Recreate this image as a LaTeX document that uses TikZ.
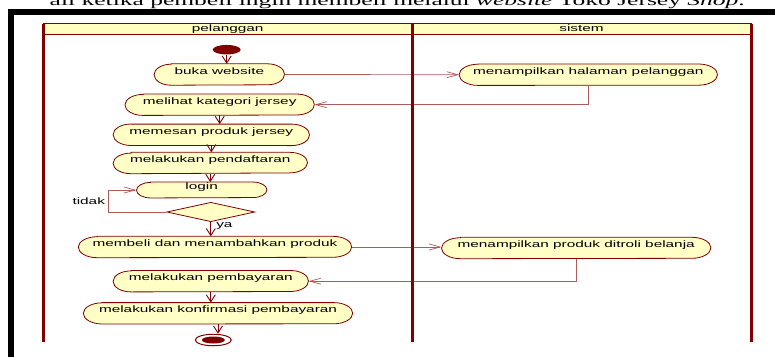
\documentclass[tikz,border=0pt]{standalone}
\usepackage{fontspec}
\usepackage{xcolor}
\usepackage{tikz}
\usetikzlibrary{arrows.meta,shapes.geometric,backgrounds}

\newfontfamily\umlfont[FakeStretch=1.65]{Liberation Sans}
\newfontfamily\pagefont[FakeStretch=1.7]{Liberation Serif}

\definecolor{umlred}{HTML}{800000}
\definecolor{umlfill}{HTML}{FFFFC6}
\definecolor{lanefill}{HTML}{FFFFBF}
\definecolor{crossred}{HTML}{B05A5A}

\tikzset{
  actnode/.style={rectangle, inner sep=0pt, minimum height=21pt,
    text height=5pt, text depth=6pt, font=\umlfont\fontsize{9.3pt}{11pt}\selectfont},
  actshape/.style={draw=umlred, fill=umlfill, line width=0.8pt},
  startnode/.style={ellipse, fill=umlred, minimum width=28pt, minimum height=9.5pt, inner sep=0pt},
  endring/.style={ellipse, draw=umlred, fill=white, line width=1pt,
    minimum width=36pt, minimum height=11.5pt, inner sep=0pt},
  enddot/.style={ellipse, fill=umlred, minimum width=23pt, minimum height=7pt, inner sep=0pt},
  decision/.style={diamond, draw=umlred, fill=umlfill, line width=0.8pt,
    minimum width=88pt, minimum height=19.4pt, inner sep=0pt},
  flow/.style={draw=umlred, line width=0.9pt, -{Straight Barb[length=7pt,width=9pt]}},
  crossflow/.style={draw=crossred, line width=0.7pt, -{Straight Barb[length=11pt,width=6pt]}},
  guardtext/.style={font=\umlfont\fontsize{9.3pt}{11pt}\selectfont, inner sep=0pt},
  lanehead/.style={draw=umlred, fill=lanefill, line width=1.2pt},
  lanetitle/.style={font=\umlfont\fontsize{9.3pt}{11pt}\selectfont, inner sep=0pt,
    text height=6.7pt, text depth=2pt},
  laneline/.style={draw=umlred, line width=3pt}
}

\begin{document}
\begin{tikzpicture}[x=1pt, y=-1pt]
  \useasboundingbox (0,0) rectangle (775,356);
  \clip (0,0) rectangle (775,356);

  % page line and frame
  \node[anchor=base east, inner sep=0pt, font=\pagefont\fontsize{15pt}{18pt}\selectfont] (pagetext) at (745,5.5)
    {ali ketika pembeli ingin membeli melalui \textit{website} Toko Jersey \textit{Shop}.};
  \fill (8.3,8.7) rectangle (780,14.5);
  \fill (8.3,8.7) rectangle (14,360);

  % pelanggan
  \node[startnode] (mulai) at (226.7,49.7) {};
  \node[actnode, minimum width=130pt] (buka) at (219.3,74.5) {buka website};
  \node[actnode, minimum width=189pt] (lihat) at (219.7,104.7) {melihat kategori jersey};
  \node[actnode, minimum width=196pt] (pesan) at (211.3,134.8) {memesan produk jersey};
  \node[actnode, minimum width=194pt] (daftar) at (210.3,163) {melakukan pendaftaran};
  \node[actnode, minimum width=130pt, minimum height=15.5pt] (login) at (201.7,190) {login};
  \node[decision] (cek) at (210.8,212) {};
  \node[actnode, minimum width=273pt] (beli) at (215,247) {membeli dan menambahkan produk};
  \node[actnode, minimum width=195pt] (bayar) at (210.8,281.2) {melakukan pembayaran};
  \node[actnode, minimum width=269pt] (konfirmasi) at (218,313.3) {melakukan konfirmasi pembayaran};
  \node[endring] (akhir) at (213.3,340) {};
  \node[enddot] (akhirdot) at (akhir) {};

  % sistem
  \node[actnode, minimum width=258pt] (halaman) at (588.3,74.7) {menampilkan halaman pelanggan};
  \node[actnode, minimum width=269pt] (troli) at (576.2,248) {menampilkan produk ditroli belanja};

  \begin{pgfonlayer}{background}
    \foreach \n/\r/\rx in {buka/10.5/17, lihat/10.5/18, pesan/10.75/18, daftar/10.3/18,
        login/7.75/14, beli/10.5/19, bayar/10.5/18, konfirmasi/10.6/19,
        halaman/10.6/19, troli/10.5/19}
      \draw[actshape] ([xshift=\rx pt]\n.north west) -- ([xshift=-\rx pt]\n.north east)
        arc[start angle=90, end angle=-90, x radius=\rx pt, y radius=\r pt]
        -- ([xshift=\rx pt]\n.south west)
        arc[start angle=270, end angle=90, x radius=\rx pt, y radius=\r pt] -- cycle;
  \end{pgfonlayer}

  % connectors
  \draw[flow] (mulai.south) -- (mulai.south |- buka.north);
  \draw[crossflow] (buka.east) -- (halaman.west);
  \draw[crossflow] (halaman.south) |- (lihat.east);
  \draw[flow] (lihat.south) -- (lihat.south |- pesan.north);
  \draw[flow] (pesan.south) -- (pesan.south |- daftar.north);
  \draw[flow] (daftar.south) -- (daftar.south |- login.north);
  \coordinate (ulang) at (108.3,212);
  \draw[crossflow] (cek.west) -- (ulang) |- node[pos=0.25, left=3pt, guardtext] {tidak} (login.west);
  \draw[flow] (cek.south) -- node[pos=0.25, right=5pt, guardtext] {ya} (cek.south |- beli.north);
  \draw[crossflow] (beli.east) -- (beli.east -| troli.west);
  \draw[crossflow] (troli.south) |- (bayar.east);
  \draw[flow] (bayar.south) -- (bayar.south |- konfirmasi.north);
  \draw[flow] (konfirmasi.south) -- (konfirmasi.south |- akhir.north);

  % lanes
  \draw[lanehead] (43.5,23.5) rectangle (751,34.5);
  \node[lanetitle] (pelanggan) at (227.7,29.3) {pelanggan};
  \node[lanetitle] (sistem) at (581.5,29.3) {sistem};
  \foreach \x in {43.5,412,751}
    \draw[laneline] (\x,23.5) -- (\x,342);
\end{tikzpicture}
\end{document}
